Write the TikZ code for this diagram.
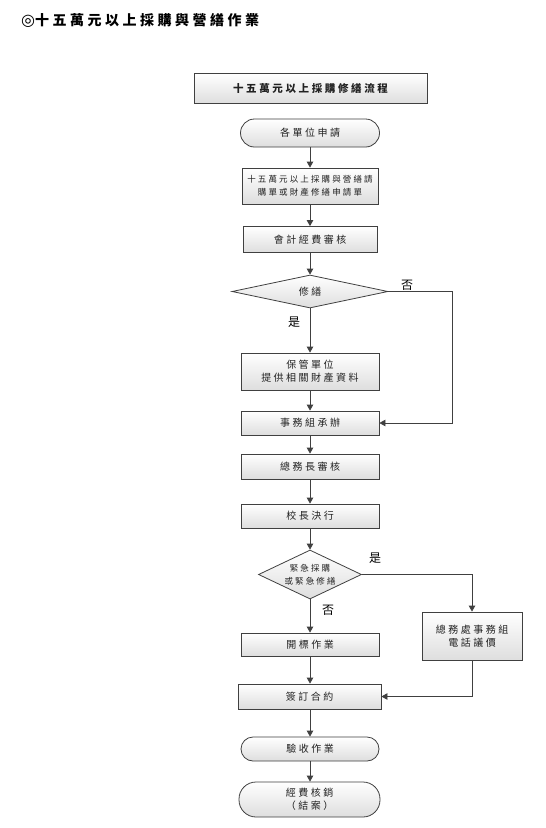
\documentclass[tikz,border=0pt]{standalone}
\usepackage{fontspec}
\usetikzlibrary{shapes.geometric,arrows.meta}
\setmainfont{Noto Sans CJK TC}
\newfontfamily\cjk[LetterSpace=25]{Noto Sans CJK TC}
\newfontfamily\cjkplain{Noto Sans CJK TC}
\newfontfamily\symfont{DejaVu Sans}
\definecolor{edge}{HTML}{404040}
\definecolor{txt}{HTML}{222222}
\tikzset{
  base/.style={draw=edge, line width=0.8pt, top color=white, bottom color=black!13,
    inner sep=0pt, align=center, text=txt, font=\cjk\fontsize{10}{13}\selectfont},
  procbox/.style={base, rectangle},
  termbox/.style={base, rectangle, rounded corners=#1},
  decbox/.style={base, diamond, aspect=#1},
  conn/.style={draw=edge, line width=0.8pt, -{Triangle[length=6pt,width=6.5pt]}},
  lbl/.style={font=\cjkplain\fontsize{12}{12}\selectfont, text=black, inner sep=0pt}
}
\begin{document}
\begin{tikzpicture}[x=1pt,y=-1pt]
\useasboundingbox (0,0) rectangle (546,828);
\fill[white] (0,0) rectangle (546,828);

\node[anchor=west, inner sep=0pt, font=\cjk\bfseries\fontsize{14}{14}\selectfont] (title) at (21,20) {{\symfont\fontsize{16}{16}\selectfont ◎}十五萬元以上採購與營繕作業};

\node[procbox, minimum width=233, minimum height=30, font=\cjk\bfseries\fontsize{10.5}{13}\selectfont] (head) at (310.5,88.5) {十五萬元以上採購修繕流程};

\node[termbox=14pt, minimum width=139, minimum height=28] (apply) at (310,133) {各單位申請};
\node[procbox, minimum width=136, minimum height=36, font=\cjk\fontsize{8.5}{13}\selectfont] (req) at (310,186) {十五萬元以上採購與營繕請\\購單或財產修繕申請單};
\node[procbox, minimum width=134, minimum height=26] (acct) at (310,239.5) {會計經費審核};
\node[decbox=4, minimum width=156, minimum height=33] (dia1) at (310,291.5) {修繕};
\node[procbox, minimum width=138, minimum height=37] (keep) at (310,371.5) {保管單位\\提供相關財產資料};
\node[procbox, minimum width=138, minimum height=24] (affairs) at (310,423) {事務組承辦};
\node[procbox, minimum width=138, minimum height=25] (gm) at (310,466.5) {總務長審核};
\node[procbox, minimum width=138, minimum height=24] (pres) at (310,516) {校長決行};
\node[decbox=2, minimum width=103, minimum height=49, font=\cjk\fontsize{8.5}{13}\selectfont] (dia2) at (310,574.5) {緊急採購\\或緊急修繕};
\node[procbox, minimum width=100, minimum height=48] (phone) at (472,636) {總務處事務組\\電話議價};
\node[procbox, minimum width=138, minimum height=23] (bid) at (310,644.5) {開標作業};
\node[procbox, minimum width=143, minimum height=25] (contract) at (309.5,696.5) {簽訂合約};
\node[termbox=12pt, minimum width=138, minimum height=24] (accept) at (310,749) {驗收作業};
\node[termbox=17pt, minimum width=141, minimum height=35] (close) at (309.5,799.5) {經費核銷\\（結案）};

\coordinate (nocol) at (452,0);

\draw[conn] (apply) -- (req);
\draw[conn] (req) -- (acct);
\draw[conn] (acct) -- (dia1);
\draw[conn] (dia1) -- (keep);
\draw[conn] (dia1.east) -- (dia1.east -| nocol) |- (affairs.east);
\draw[conn] (keep) -- (affairs);
\draw[conn] (affairs) -- (gm);
\draw[conn] (gm) -- (pres);
\draw[conn] (pres) -- (dia2);
\draw[conn] (dia2) -- (bid);
\draw[conn] (dia2.east) -| (phone.north);
\draw[conn] (bid) -- (bid |- contract.north);
\draw[conn] (phone.south) |- (contract.east);
\draw[conn] (contract.south -| accept) -- (accept);
\draw[conn] (accept) -- (close.north -| accept);

\node[lbl] (no1) at (407,285) {否};
\node[lbl] (yes1) at (294,322) {是};
\node[lbl] (yes2) at (375,558) {是};
\node[lbl] (no2) at (328,610) {否};
\end{tikzpicture}
\end{document}
